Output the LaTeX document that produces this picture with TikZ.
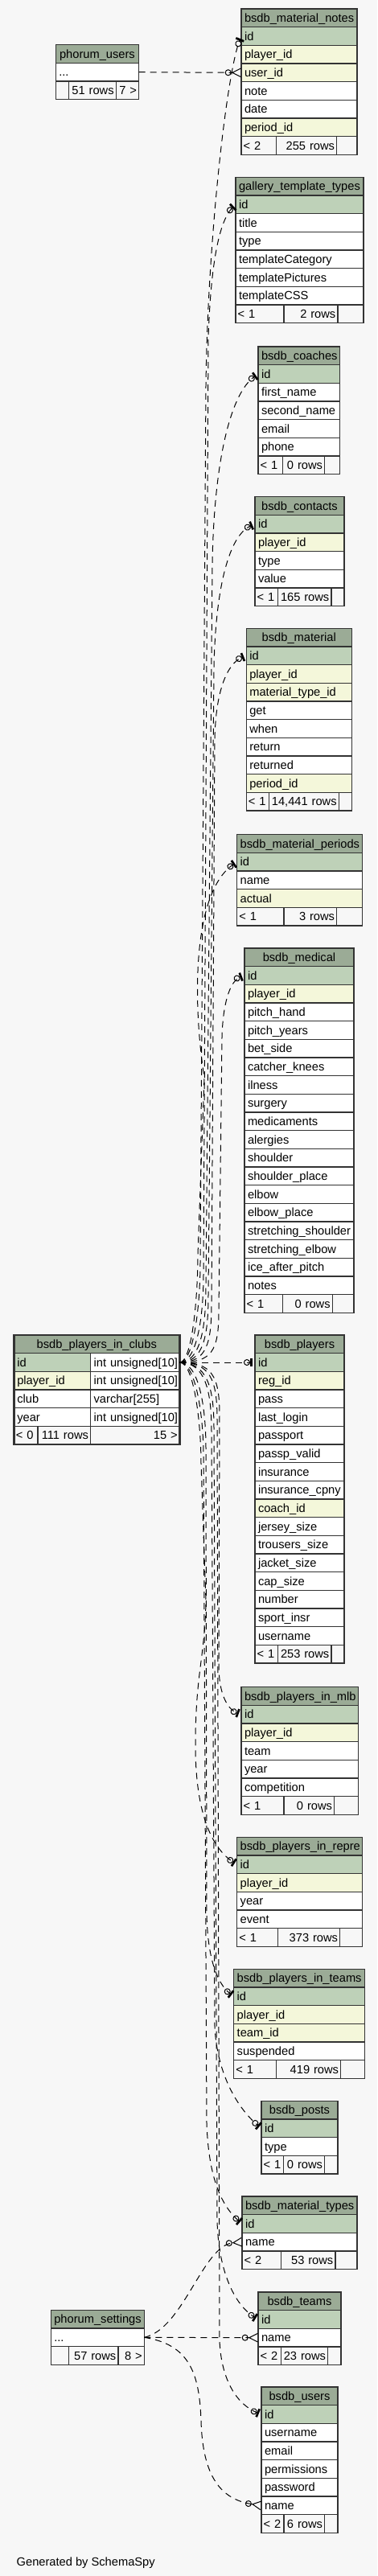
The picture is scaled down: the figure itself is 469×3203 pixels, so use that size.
\documentclass[tikz,border=0pt]{standalone}
\usepackage{fontspec}
\setmainfont{Liberation Sans}
\usetikzlibrary{positioning, arrows.meta}

\definecolor{bgcol}{HTML}{F7F7F7}
\definecolor{headcol}{HTML}{9BAB96}
\definecolor{pkcol}{HTML}{BED1B8}
\definecolor{fkcol}{HTML}{F4F7DA}
\definecolor{gridcol}{HTML}{333333}

\begin{document}
\begin{tikzpicture}[
    x=0.75pt, y=-0.75pt,
    every node/.style={font=\fontsize{11}{13}\selectfont, inner xsep=3pt, inner ysep=0pt, outer sep=0pt, minimum height=17pt, text height=9.3pt, text depth=1.7pt},
    cell/.style={rectangle, draw=gridcol, line width=0.9pt},
    head/.style={cell, fill=headcol, align=center},
    pk/.style={cell, fill=pkcol, align=left},
    fk/.style={cell, fill=fkcol, align=left},
    col/.style={cell, fill=white, align=left},
    foot/.style={cell, fill=bgcol, inner xsep=2pt, align=left},
    rel/.style={draw, line width=0.75pt, dash pattern=on 6pt off 4.5pt},
    teeo/.style={-{Circle[open,length=6pt] Bar[width=8pt,line width=2pt,sep=2.5pt]}},
    crowo/.style={-{Circle[open,length=6pt] Straight Barb[reversed,length=8pt,width=8pt]}}
]

    \fill[bgcol] (0,0) rectangle (469,3203);
    \useasboundingbox (0,0) rectangle (469,3203);

    % phorum_users
    \begin{scope}[nodes={text width=71.5pt}]
    \node[head, anchor=north west] (pusers) at (69.3,55.7) {phorum\_users};
    \node[col, below=0pt of pusers] (pusers-dots) {...};
    \node[foot, text width=8.25pt, anchor=north west] (pusers-f1) at (pusers-dots.south west) {};
    \node[foot, text width=40pt, align=right, right=0pt of pusers-f1] (pusers-f2) {51 rows};
    \node[foot, text width=17.25pt, align=right, right=0pt of pusers-f2] (pusers-f3) {7 >};
    \end{scope}

    % bsdb_material_notes
    \begin{scope}[nodes={text width=102pt}]
    \node[head, anchor=north west] (notes) at (300,11) {bsdb\_material\_notes};
    \node[pk, below=0pt of notes] (notes-id) {id};
    \node[fk, below=0pt of notes-id] (notes-player) {player\_id};
    \node[fk, below=0pt of notes-player] (notes-user) {user\_id};
    \node[col, below=0pt of notes-user] (notes-note) {note};
    \node[col, below=0pt of notes-note] (notes-date) {date};
    \node[fk, below=0pt of notes-date] (notes-period) {period\_id};
    \node[foot, text width=28.5pt, anchor=north west] (notes-f1) at (notes-period.south west) {< 2};
    \node[foot, text width=52.5pt, align=right, right=0pt of notes-f1] (notes-f2) {255 rows};
    \node[foot, text width=15pt, right=0pt of notes-f2] (notes-f3) {};
    \end{scope}

    % gallery_template_types
    \begin{scope}[nodes={text width=113.25pt}]
    \node[head, anchor=north west] (gallery) at (293,220.3) {gallery\_template\_types};
    \node[pk, below=0pt of gallery] (gallery-id) {id};
    \node[col, below=0pt of gallery-id] (gallery-title) {title};
    \node[col, below=0pt of gallery-title] (gallery-type) {type};
    \node[col, below=0pt of gallery-type] (gallery-cat) {templateCategory};
    \node[col, below=0pt of gallery-cat] (gallery-pics) {templatePictures};
    \node[col, below=0pt of gallery-pics] (gallery-css) {templateCSS};
    \node[foot, text width=41pt, anchor=north west] (gallery-f1) at (gallery-css.south west) {< 1};
    \node[foot, text width=46.25pt, align=right, right=0pt of gallery-f1] (gallery-f2) {2 rows};
    \node[foot, text width=20pt, right=0pt of gallery-f2] (gallery-f3) {};
    \end{scope}

    % bsdb_coaches
    \begin{scope}[nodes={text width=70.25pt}]
    \node[head, anchor=north west] (coaches) at (321,431) {bsdb\_coaches};
    \node[pk, below=0pt of coaches] (coaches-id) {id};
    \node[col, below=0pt of coaches-id] (coaches-first) {first\_name};
    \node[col, below=0pt of coaches-first] (coaches-second) {second\_name};
    \node[col, below=0pt of coaches-second] (coaches-email) {email};
    \node[col, below=0pt of coaches-email] (coaches-phone) {phone};
    \node[foot, text width=19pt, anchor=north west] (coaches-f1) at (coaches-phone.south west) {< 1};
    \node[foot, text width=35pt, align=right, right=0pt of coaches-f1] (coaches-f2) {0 rows};
    \node[foot, text width=10.25pt, right=0pt of coaches-f2] (coaches-f3) {};
    \end{scope}

    % bsdb_contacts
    \begin{scope}[nodes={text width=77.25pt}]
    \node[head, anchor=north west] (contacts) at (317,617.7) {bsdb\_contacts};
    \node[pk, below=0pt of contacts] (contacts-id) {id};
    \node[fk, below=0pt of contacts-id] (contacts-player) {player\_id};
    \node[col, below=0pt of contacts-player] (contacts-type) {type};
    \node[col, below=0pt of contacts-type] (contacts-value) {value};
    \node[foot, text width=17.25pt, anchor=north west] (contacts-f1) at (contacts-value.south west) {< 1};
    \node[foot, text width=46pt, align=right, right=0pt of contacts-f1] (contacts-f2) {165 rows};
    \node[foot, text width=8pt, right=0pt of contacts-f2] (contacts-f3) {};
    \end{scope}

    % bsdb_material
    \begin{scope}[nodes={text width=92.25pt}]
    \node[head, anchor=north west] (material) at (306.3,781.3) {bsdb\_material};
    \node[pk, below=0pt of material] (material-id) {id};
    \node[fk, below=0pt of material-id] (material-player) {player\_id};
    \node[fk, below=0pt of material-player] (material-mtype) {material\_type\_id};
    \node[col, below=0pt of material-mtype] (material-get) {get};
    \node[col, below=0pt of material-get] (material-when) {when};
    \node[col, below=0pt of material-when] (material-return) {return};
    \node[col, below=0pt of material-return] (material-returned) {returned};
    \node[fk, below=0pt of material-returned] (material-period) {period\_id};
    \node[foot, text width=17pt, anchor=north west] (material-f1) at (material-period.south west) {< 1};
    \node[foot, text width=61.25pt, align=right, right=0pt of material-f1] (material-f2) {\mbox{14,441 rows}};
    \node[foot, text width=8pt, right=0pt of material-f2] (material-f3) {};
    \end{scope}

    % bsdb_material_periods
    \begin{scope}[nodes={text width=111pt}]
    \node[head, anchor=north west] (periods) at (294.7,1037.7) {bsdb\_material\_periods};
    \node[pk, below=0pt of periods] (periods-id) {id};
    \node[col, below=0pt of periods-id] (periods-name) {name};
    \node[fk, below=0pt of periods-name] (periods-actual) {actual};
    \node[foot, text width=39.75pt, anchor=north west] (periods-f1) at (periods-actual.south west) {< 1};
    \node[foot, text width=45.25pt, align=right, right=0pt of periods-f1] (periods-f2) {3 rows};
    \node[foot, text width=20pt, right=0pt of periods-f2] (periods-f3) {};
    \end{scope}

    % bsdb_medical
    \begin{scope}[nodes={text width=96pt}]
    \node[head, anchor=north west] (med) at (304,1179) {bsdb\_medical};
    \node[pk, below=0pt of med] (med-id) {id};
    \node[fk, below=0pt of med-id] (med-player) {player\_id};
    \node[col, below=0pt of med-player] (med-hand) {pitch\_hand};
    \node[col, below=0pt of med-hand] (med-years) {pitch\_years};
    \node[col, below=0pt of med-years] (med-bet) {bet\_side};
    \node[col, below=0pt of med-bet] (med-knees) {catcher\_knees};
    \node[col, below=0pt of med-knees] (med-ilness) {ilness};
    \node[col, below=0pt of med-ilness] (med-surgery) {surgery};
    \node[col, below=0pt of med-surgery] (med-meds) {medicaments};
    \node[col, below=0pt of med-meds] (med-alergies) {alergies};
    \node[col, below=0pt of med-alergies] (med-shoulder) {shoulder};
    \node[col, below=0pt of med-shoulder] (med-splace) {shoulder\_place};
    \node[col, below=0pt of med-splace] (med-elbow) {elbow};
    \node[col, below=0pt of med-elbow] (med-eplace) {elbow\_place};
    \node[col, below=0pt of med-eplace] (med-sshoulder) {stretching\_shoulder};
    \node[col, below=0pt of med-sshoulder] (med-selbow) {stretching\_elbow};
    \node[col, below=0pt of med-selbow] (med-ice) {ice\_after\_pitch};
    \node[col, below=0pt of med-ice] (med-notes) {notes};
    \node[foot, text width=31.75pt, anchor=north west] (med-f1) at (med-notes.south west) {< 1};
    \node[foot, text width=42.25pt, align=right, right=0pt of med-f1] (med-f2) {0 rows};
    \node[foot, text width=16pt, right=0pt of med-f2] (med-f3) {};
    \end{scope}

    % bsdb_players_in_clubs
    \node[head, text width=148.5pt, anchor=north west] (clubs) at (17.3,1660) {bsdb\_players\_in\_clubs};
    \begin{scope}[nodes={text width=65.5pt}]
    \node[pk, anchor=north west] (clubs-id) at (clubs.south west) {id};
    \node[fk, below=0pt of clubs-id] (clubs-player) {player\_id};
    \node[col, below=0pt of clubs-player] (clubs-club) {club};
    \node[col, below=0pt of clubs-club] (clubs-year) {year};
    \end{scope}
    \begin{scope}[nodes={text width=77pt}]
    \node[col, right=0pt of clubs-id] (clubs-id-t) {\mbox{int unsigned[10]}};
    \node[col, right=0pt of clubs-player] (clubs-player-t) {\mbox{int unsigned[10]}};
    \node[col, right=0pt of clubs-club] (clubs-club-t) {varchar[255]};
    \node[col, right=0pt of clubs-year] (clubs-year-t) {\mbox{int unsigned[10]}};
    \end{scope}
    \node[foot, text width=18.25pt, anchor=north west] (clubs-f1) at (clubs-year.south west) {< 0};
    \node[foot, text width=45.25pt, align=right, right=0pt of clubs-f1] (clubs-f2) {111 rows};
    \node[foot, text width=79pt, align=right, right=0pt of clubs-f2] (clubs-f3) {15 >};
    \draw[gridcol, line width=2.2pt] (clubs.north west) rectangle (clubs-f3.south east);

    % bsdb_players
    \begin{scope}[nodes={text width=77.25pt}]
    \node[head, anchor=north west] (players) at (317,1660) {bsdb\_players};
    \node[pk, below=0pt of players] (players-id) {id};
    \node[fk, below=0pt of players-id] (players-reg) {reg\_id};
    \node[col, below=0pt of players-reg] (players-pass) {pass};
    \node[col, below=0pt of players-pass] (players-login) {last\_login};
    \node[col, below=0pt of players-login] (players-passport) {passport};
    \node[col, below=0pt of players-passport] (players-valid) {passp\_valid};
    \node[col, below=0pt of players-valid] (players-ins) {insurance};
    \node[col, below=0pt of players-ins] (players-cpny) {insurance\_cpny};
    \node[fk, below=0pt of players-cpny] (players-coach) {coach\_id};
    \node[col, below=0pt of players-coach] (players-jersey) {jersey\_size};
    \node[col, below=0pt of players-jersey] (players-trousers) {trousers\_size};
    \node[col, below=0pt of players-trousers] (players-jacket) {jacket\_size};
    \node[col, below=0pt of players-jacket] (players-cap) {cap\_size};
    \node[col, below=0pt of players-cap] (players-number) {number};
    \node[col, below=0pt of players-number] (players-insr) {sport\_insr};
    \node[col, below=0pt of players-insr] (players-user) {username};
    \node[foot, text width=17.25pt, anchor=north west] (players-f1) at (players-user.south west) {< 1};
    \node[foot, text width=46pt, align=right, right=0pt of players-f1] (players-f2) {253 rows};
    \node[foot, text width=8pt, right=0pt of players-f2] (players-f3) {};
    \end{scope}

    % bsdb_players_in_mlb
    \begin{scope}[nodes={text width=103pt}]
    \node[head, anchor=north west] (mlb) at (300,2097.7) {bsdb\_players\_in\_mlb};
    \node[pk, below=0pt of mlb] (mlb-id) {id};
    \node[fk, below=0pt of mlb-id] (mlb-player) {player\_id};
    \node[col, below=0pt of mlb-player] (mlb-team) {team};
    \node[col, below=0pt of mlb-team] (mlb-year) {year};
    \node[col, below=0pt of mlb-year] (mlb-comp) {competition};
    \node[foot, text width=35.75pt, anchor=north west] (mlb-f1) at (mlb-comp.south west) {< 1};
    \node[foot, text width=43pt, align=right, right=0pt of mlb-f1] (mlb-f2) {0 rows};
    \node[foot, text width=18.25pt, right=0pt of mlb-f2] (mlb-f3) {};
    \end{scope}

    % bsdb_players_in_repre
    \begin{scope}[nodes={text width=111pt}]
    \node[head, anchor=north west] (repre) at (294.7,2284.3) {bsdb\_players\_in\_repre};
    \node[pk, below=0pt of repre] (repre-id) {id};
    \node[fk, below=0pt of repre-id] (repre-player) {player\_id};
    \node[col, below=0pt of repre-player] (repre-year) {year};
    \node[col, below=0pt of repre-year] (repre-event) {event};
    \node[foot, text width=34pt, anchor=north west] (repre-f1) at (repre-event.south west) {< 1};
    \node[foot, text width=54pt, align=right, right=0pt of repre-f1] (repre-f2) {373 rows};
    \node[foot, text width=17pt, right=0pt of repre-f2] (repre-f3) {};
    \end{scope}

    % bsdb_players_in_teams
    \begin{scope}[nodes={text width=116pt}]
    \node[head, anchor=north west] (pteams) at (290.7,2448.3) {bsdb\_players\_in\_teams};
    \node[pk, below=0pt of pteams] (pteams-id) {id};
    \node[fk, below=0pt of pteams-id] (pteams-player) {player\_id};
    \node[fk, below=0pt of pteams-player] (pteams-team) {team\_id};
    \node[col, below=0pt of pteams-team] (pteams-susp) {suspended};
    \node[foot, text width=35.75pt, anchor=north west] (pteams-f1) at (pteams-susp.south west) {< 1};
    \node[foot, text width=56pt, align=right, right=0pt of pteams-f1] (pteams-f2) {419 rows};
    \node[foot, text width=18.25pt, right=0pt of pteams-f2] (pteams-f3) {};
    \end{scope}

    % bsdb_posts
    \begin{scope}[nodes={text width=65.25pt}]
    \node[head, anchor=north west] (posts) at (325,2612.3) {bsdb\_posts};
    \node[pk, below=0pt of posts] (posts-id) {id};
    \node[col, below=0pt of posts-id] (posts-type) {type};
    \node[foot, text width=16.75pt, anchor=north west] (posts-f1) at (posts-type.south west) {< 1};
    \node[foot, text width=34.25pt, align=right, right=0pt of posts-f1] (posts-f2) {0 rows};
    \node[foot, text width=8.25pt, right=0pt of posts-f2] (posts-f3) {};
    \end{scope}

    % bsdb_material_types
    \begin{scope}[nodes={text width=101.25pt}]
    \node[head, anchor=north west] (mtypes) at (301,2731) {bsdb\_material\_types};
    \node[pk, below=0pt of mtypes] (mtypes-id) {id};
    \node[col, below=0pt of mtypes-id] (mtypes-name) {name};
    \node[foot, text width=32.25pt, anchor=north west] (mtypes-f1) at (mtypes-name.south west) {< 2};
    \node[foot, text width=46.75pt, align=right, right=0pt of mtypes-f1] (mtypes-f2) {53 rows};
    \node[foot, text width=16.25pt, right=0pt of mtypes-f2] (mtypes-f3) {};
    \end{scope}

    % bsdb_teams
    \begin{scope}[nodes={text width=71.25pt}]
    \node[head, anchor=north west] (teams) at (321,2850) {bsdb\_teams};
    \node[pk, below=0pt of teams] (teams-id) {id};
    \node[col, below=0pt of teams-id] (teams-name) {name};
    \node[foot, text width=17.25pt, anchor=north west] (teams-f1) at (teams-name.south west) {< 2};
    \node[foot, text width=39.75pt, align=right, right=0pt of teams-f1] (teams-f2) {23 rows};
    \node[foot, text width=8.25pt, right=0pt of teams-f2] (teams-f3) {};
    \end{scope}

    % phorum_settings
    \begin{scope}[nodes={text width=81pt}]
    \node[head, anchor=north west] (pset) at (63.3,2872.3) {phorum\_settings};
    \node[col, below=0pt of pset] (pset-dots) {...};
    \node[foot, text width=12.75pt, anchor=north west] (pset-f1) at (pset-dots.south west) {};
    \node[foot, text width=42pt, align=right, right=0pt of pset-f1] (pset-f2) {57 rows};
    \node[foot, text width=20.25pt, align=right, right=0pt of pset-f2] (pset-f3) {8 >};
    \end{scope}

    % bsdb_users
    \begin{scope}[nodes={text width=65.25pt}]
    \node[head, anchor=north west] (users) at (325,2968) {bsdb\_users};
    \node[pk, below=0pt of users] (users-id) {id};
    \node[col, below=0pt of users-id] (users-username) {username};
    \node[col, below=0pt of users-username] (users-email) {email};
    \node[col, below=0pt of users-email] (users-perm) {permissions};
    \node[col, below=0pt of users-perm] (users-pass) {password};
    \node[col, below=0pt of users-pass] (users-name) {name};
    \node[foot, text width=17pt, anchor=north west] (users-f1) at (users-name.south west) {< 2};
    \node[foot, text width=34pt, align=right, right=0pt of users-f1] (users-f2) {6 rows};
    \node[foot, text width=8.25pt, right=0pt of users-f2] (users-f3) {};
    \end{scope}

    \node[anchor=base west] (credit) at (16.7,3190.7) {Generated by SchemaSpy};

    % Edges - up from bsdb_players_in_clubs
    \draw[rel, teeo] (clubs-id-t.east) .. controls +(18,0) and +(0,50) .. (249,1570) -- (256,480) .. controls (258,300) and (282,90) .. (notes-id.west);
    \draw[rel, teeo] (clubs-id-t.east) .. controls +(22,0) and +(0,50) .. (253,1585) -- (259,420) .. controls (262,330) and (272,275) .. (gallery-id.west);
    \draw[rel, teeo] (clubs-id-t.east) .. controls +(26,0) and +(0,50) .. (256,1600) -- (264,700) .. controls (266,580) and (285,490) .. (coaches-id.west);
    \draw[rel, teeo] (clubs-id-t.east) .. controls +(30,0) and +(0,50) .. (259,1610) -- (266,830) .. controls (268,730) and (285,665) .. (contacts-id.west);
    \draw[rel, teeo] (clubs-id-t.east) .. controls +(34,0) and +(0,50) .. (263,1620) -- (267,920) .. controls (268,860) and (282,825) .. (material-id.west);
    \draw[rel, teeo] (clubs-id-t.east) .. controls +(16,0) and +(0,50) .. (246,1560) -- (254,1340) .. controls (240,1250) and (238,1110) .. (periods-id.west);
    \draw[rel, teeo] (clubs-id-t.east) .. controls +(40,0) and +(0,50) .. (272,1630) -- (276,1290) .. controls (277,1250) and (285,1220) .. (med-id.west);

    % Edges - across and down from bsdb_players_in_clubs
    \draw[rel, teeo] (clubs-id-t.east) -- (players-id.west);
    \draw[rel, teeo] (clubs-id-t.east) .. controls +(40,0) and +(0,-50) .. (273,1760) -- (272,2070) .. controls (272,2105) and (282,2125) .. (mlb-id.west);
    \draw[rel, teeo] (clubs-id-t.east) .. controls +(18,0) and +(0,-50) .. (250,1820) -- (256,1990) .. controls (255,2060) and (243,2080) .. (243,2170) .. controls (243,2260) and (266,2300) .. (repre-id.west);
    \draw[rel, teeo] (clubs-id-t.east) .. controls +(24,0) and +(0,-50) .. (256,1800) -- (257,2380) .. controls (258,2430) and (268,2465) .. (pteams-id.west);
    \draw[rel, teeo] (clubs-id-t.east) .. controls +(32,0) and +(0,-50) .. (263,1780) -- (267,2520) .. controls (270,2580) and (296,2622) .. (posts-id.west);
    \draw[rel, teeo] (clubs-id-t.east) .. controls +(20,0) and +(0,-50) .. (253,1810) -- (257,2640) .. controls (259,2700) and (272,2740) .. (mtypes-id.west);
    \draw[rel, teeo] (clubs-id-t.east) .. controls +(34,0) and +(0,-50) .. (266,1775) -- (270,2760) .. controls (271,2820) and (290,2865) .. (teams-id.west);
    \draw[rel, teeo] (clubs-id-t.east) .. controls +(38,0) and +(0,-50) .. (270,1765) -- (273,2910) .. controls (275,2960) and (295,2990) .. (users-id.west);

    % Edges - phorum tables
    \draw[rel, crowo] (pusers-dots.east) -- (notes-user.west);
    \draw[rel, crowo] (pset-dots.east) .. controls (228,2896) and (252,2792) .. (mtypes-name.west);
    \draw[rel, crowo] (pset-dots.east) -- (teams-name.west);
    \draw[rel, crowo] (pset-dots.east) .. controls (235,2915) and (248,2950) .. (250,3010) .. controls (252,3080) and (275,3108) .. (users-name.west);

\end{tikzpicture}
\end{document}
